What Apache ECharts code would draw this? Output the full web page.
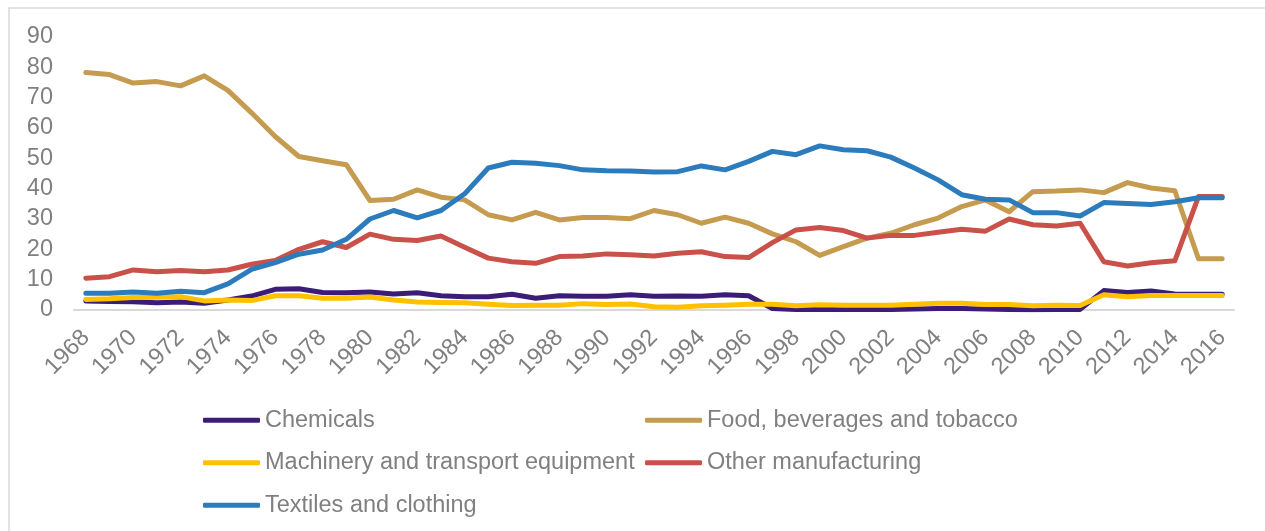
<!DOCTYPE html>
<html>
<head>
<meta charset="utf-8">
<script src="https://cdn.jsdelivr.net/npm/echarts@6/dist/echarts.min.js"></script>
<style>
  html, body { margin: 0; padding: 0; background: #ffffff; }
  #chart { width: 1265px; height: 531px; }
</style>
</head>
<body>
<div id="chart"></div>
<script>
// Share of manufacturing output by branch, 1968-2016 (percent)
const years = [];
for (let y = 1968; y <= 2016; y++) years.push(String(y));

const seriesNames = [
  'Chemicals',
  'Food, beverages and tobacco',
  'Machinery and transport equipment',
  'Other manufacturing',
  'Textiles and clothing'
];

const chemicals = [
  3.0, 2.8, 2.7, 2.4, 2.6, 2.2, 3.3, 4.6, 6.8, 7.0,
  5.8, 5.7, 5.9, 5.3, 5.7, 4.7, 4.4, 4.4, 5.2, 3.9,
  4.7, 4.5, 4.5, 5.0, 4.5, 4.6, 4.5, 5.0, 4.7, 0.5,
  0.2, 0.2, 0.2, 0.2, 0.2, 0.3, 0.5, 0.5, 0.3, 0.2,
  0.1, 0.2, 0.2, 6.4, 5.8, 6.3, 5.3, 5.2, 5.2
];

const food = [
  78.3, 77.6, 74.8, 75.3, 73.9, 77.2, 72.4, 65.0, 57.2, 50.6,
  49.2, 47.9, 36.1, 36.5, 39.6, 37.2, 36.3, 31.4, 29.7, 32.2,
  29.7, 30.5, 30.5, 30.1, 32.8, 31.4, 28.6, 30.6, 28.6, 25.1,
  22.5, 18.0, 20.9, 23.7, 25.3, 28.1, 30.3, 34.1, 36.3, 32.4,
  39.0, 39.2, 39.6, 38.7, 42.0, 40.2, 39.3, 16.9, 16.9
];

const machinery = [
  3.5, 3.7, 4.1, 4.2, 4.4, 3.0, 3.3, 3.1, 4.7, 4.7,
  3.9, 3.9, 4.3, 3.3, 2.6, 2.5, 2.4, 1.9, 1.5, 1.6,
  1.6, 2.1, 1.8, 2.0, 1.1, 0.9, 1.4, 1.6, 1.9, 1.9,
  1.4, 1.7, 1.6, 1.6, 1.6, 1.9, 2.2, 2.2, 1.8, 1.8,
  1.4, 1.6, 1.5, 5.0, 4.4, 4.8, 4.8, 4.8, 4.8
];

const other = [
  10.5, 11.0, 13.2, 12.6, 13.0, 12.6, 13.2, 15.1, 16.3, 20.0,
  22.5, 20.6, 25.0, 23.3, 22.9, 24.4, 20.7, 17.1, 15.9, 15.4,
  17.6, 17.8, 18.5, 18.2, 17.8, 18.7, 19.2, 17.6, 17.3, 22.2,
  26.4, 27.2, 26.2, 23.7, 24.6, 24.6, 25.6, 26.6, 26.0, 30.0,
  28.1, 27.7, 28.6, 15.9, 14.5, 15.6, 16.2, 37.4, 37.4
];

const textiles = [
  5.5, 5.5, 5.9, 5.5, 6.2, 5.7, 8.6, 13.4, 15.6, 18.4,
  19.8, 23.3, 30.0, 32.8, 30.4, 32.8, 38.3, 46.8, 48.7, 48.4,
  47.6, 46.2, 45.9, 45.8, 45.5, 45.6, 47.5, 46.2, 49.0, 52.3,
  51.2, 54.1, 52.8, 52.5, 50.4, 46.8, 42.9, 38.0, 36.5, 36.3,
  32.1, 32.1, 31.0, 35.4, 35.1, 34.8, 35.7, 37.0, 37.0
];

const yTicks = { min: 0, max: 90, step: 10 };

const colors = ['#3b1c78', '#c59b50', '#ffc000', '#c9514a', '#2b7bbd'];
const values = [chemicals, food, machinery, other, textiles];

const font = '"Liberation Sans", Arial, sans-serif';
const grey = '#808080';

const chart = echarts.init(document.getElementById('chart'), null, { renderer: 'canvas' });

chart.setOption({
  animation: false,
  backgroundColor: '#ffffff',
  color: colors,
  textStyle: { fontFamily: font },
  graphic: [{
    type: 'rect',
    silent: true,
    z: -10,
    shape: { x: 9, y: 8, width: 1300, height: 600 },
    style: { fill: 'none', stroke: '#d9d9d9', lineWidth: 1.5 }
  }],
  grid: { left: 74, right: 31, top: 37, bottom: 221, containLabel: false },
  legend: {
    data: seriesNames,
    left: 203,
    top: 401,
    width: 900,
    padding: 0,
    orient: 'horizontal',
    itemGap: 4,
    itemWidth: 57,
    itemHeight: 5,
    icon: 'roundRect',
    textStyle: {
      fontFamily: font,
      fontSize: 23.5,
      color: grey,
      width: 376,
      overflow: 'none',
      lineHeight: 38.5
    }
  },
  xAxis: {
    type: 'category',
    data: years,
    boundaryGap: true,
    axisLine: { show: true, lineStyle: { color: '#d9d9d9', width: 2 } },
    axisTick: { show: false },
    axisLabel: {
      interval: 1,
      rotate: 45,
      margin: 24,
      fontFamily: font,
      fontSize: 23.5,
      color: grey
    },
    splitLine: { show: false }
  },
  yAxis: {
    type: 'value',
    min: yTicks.min,
    max: yTicks.max,
    interval: yTicks.step,
    axisLine: { show: false },
    axisTick: { show: false },
    splitLine: { show: false },
    axisLabel: {
      margin: 21,
      padding: [6, 0, 0, 0],
      fontFamily: font,
      fontSize: 23.5,
      color: grey
    }
  },
  series: seriesNames.map((name, i) => ({
    name: name,
    type: 'line',
    data: values[i],
    showSymbol: false,
    symbol: 'none',
    smooth: false,
    lineStyle: { width: 5, color: colors[i], cap: 'round', join: 'round' },
    itemStyle: { color: colors[i] },
    emphasis: { disabled: true }
  }))
});
</script>
</body>
</html>
